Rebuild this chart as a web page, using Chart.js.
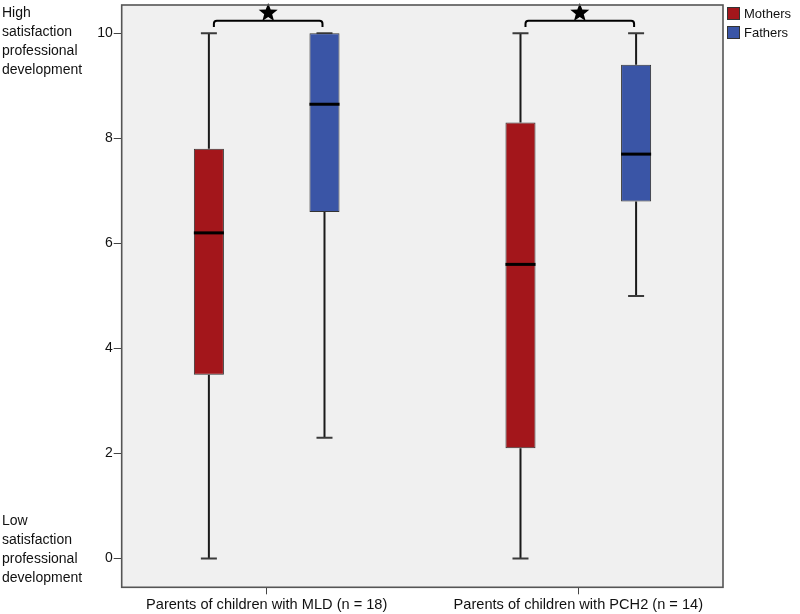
<!DOCTYPE html>
<html><head><meta charset="utf-8">
<script src="https://cdn.jsdelivr.net/npm/chart.js@4/dist/chart.umd.min.js"></script>
<style>html,body{margin:0;padding:0;background:#fff}#wrap{width:800px;height:614px;position:relative}</style>
</head><body><div id="wrap"><canvas id="c"></canvas></div>
<script>
// ---- data ----
const categories = ['Parents of children with MLD (n = 18)', 'Parents of children with PCH2 (n = 14)'];
const seriesNames = ['Mothers', 'Fathers'];
const mothersMin = [0, 0];
const mothersQ1 = [3.5, 2.1];
const mothersMedian = [6.2, 5.6];
const mothersQ3 = [7.8, 8.3];
const mothersMax = [10, 10];
const fathersMin = [2.3, 5.0];
const fathersQ1 = [6.6, 6.8];
const fathersMedian = [8.65, 7.7];
const fathersQ3 = [10, 9.4];
const fathersMax = [10, 10];
const yTicks = [0, 2, 4, 6, 8, 10];
const significant = [true, true];
const highLabel = ['High', 'satisfaction', 'professional', 'development'];
const lowLabel = ['Low', 'satisfaction', 'professional', 'development'];

const stats = [
  {min: mothersMin, q1: mothersQ1, med: mothersMedian, q3: mothersQ3, max: mothersMax},
  {min: fathersMin, q1: fathersQ1, med: fathersMedian, q3: fathersQ3, max: fathersMax}
];
const colors = ['#a3161b', '#3a55a6'];
const FONT = '"Liberation Sans", Arial, sans-serif';

const boxPlugin = {
  id: 'boxPlugin',
  beforeDraw(chart) {
    const {ctx, chartArea: a} = chart;
    ctx.save();
    ctx.fillStyle = '#f0f0f0';
    ctx.fillRect(a.left, a.top, a.right - a.left, a.bottom - a.top);
    ctx.restore();
  },
  beforeDatasetsDraw(chart) {
    const {ctx} = chart; const ys = chart.scales.y;
    ctx.save();
    stats.forEach((s, d) => {
      const meta = chart.getDatasetMeta(d);
      meta.data.forEach((el, i) => {
        const {x} = el.getProps(['x'], true);
        ctx.strokeStyle = '#1a1a1a'; ctx.lineWidth = 2;
        ctx.beginPath();
        ctx.moveTo(x, ys.getPixelForValue(s.min[i])); ctx.lineTo(x, ys.getPixelForValue(s.q1[i]));
        ctx.moveTo(x, ys.getPixelForValue(s.q3[i])); ctx.lineTo(x, ys.getPixelForValue(s.max[i]));
        ctx.stroke();
        ctx.strokeStyle = '#3a3a3a';
        ctx.beginPath();
        [s.min[i], s.max[i]].forEach(v => {
          const y = ys.getPixelForValue(v);
          ctx.moveTo(x - 8, y); ctx.lineTo(x + 8, y);
        });
        ctx.stroke();
      });
    });
    ctx.restore();
  },
  afterDatasetsDraw(chart) {
    const {ctx, chartArea: a} = chart; const ys = chart.scales.y;
    ctx.save();
    // medians
    stats.forEach((s, d) => {
      const meta = chart.getDatasetMeta(d);
      meta.data.forEach((el, i) => {
        const {x, width} = el.getProps(['x', 'width'], true);
        const y = ys.getPixelForValue(s.med[i]);
        ctx.strokeStyle = '#000'; ctx.lineWidth = 3;
        ctx.beginPath(); ctx.moveTo(x - width / 2, y); ctx.lineTo(x + width / 2, y); ctx.stroke();
      });
    });
    // significance brackets
    const m0 = chart.getDatasetMeta(0), m1 = chart.getDatasetMeta(1);
    significant.forEach((sig, i) => {
      if (!sig) return;
      const x1 = m0.data[i].getProps(['x'], true).x + 5;
      const x2 = m1.data[i].getProps(['x'], true).x - 2;
      const yTop = ys.getPixelForValue(10.24), yEnd = ys.getPixelForValue(10.12);
      ctx.strokeStyle = '#000'; ctx.lineWidth = 2;
      ctx.beginPath();
      ctx.moveTo(x1, yEnd);
      ctx.arcTo(x1, yTop, x1 + 4, yTop, 3);
      ctx.lineTo(x2 - 4, yTop);
      ctx.arcTo(x2, yTop, x2, yEnd, 3);
      ctx.lineTo(x2, yEnd);
      ctx.stroke();
      // star
      const cx = (x1 + x2) / 2, cy = ys.getPixelForValue(10.39), R = 10, r = 4.2;
      ctx.fillStyle = '#000';
      ctx.beginPath();
      for (let k = 0; k < 10; k++) {
        const ang = -Math.PI / 2 + k * Math.PI / 5;
        const rr = k % 2 === 0 ? R : r;
        const px = cx + rr * Math.cos(ang), py = cy + rr * Math.sin(ang);
        k === 0 ? ctx.moveTo(px, py) : ctx.lineTo(px, py);
      }
      ctx.closePath(); ctx.fill();
    });
    // frame
    ctx.strokeStyle = '#555'; ctx.lineWidth = 1.6;
    ctx.strokeRect(a.left, a.top, a.right - a.left, a.bottom - a.top);
    ctx.restore();
  },
  afterDraw(chart) {
    const {ctx, chartArea: a} = chart;
    ctx.save();
    // legend
    ctx.font = '13px ' + FONT; ctx.textBaseline = 'middle'; ctx.textAlign = 'left';
    seriesNames.forEach((n, i) => {
      const y = 7 + i * 19;
      ctx.fillStyle = colors[i];
      ctx.fillRect(a.right + 4, y, 13, 13);
      ctx.strokeStyle = '#333'; ctx.lineWidth = 1;
      ctx.strokeRect(a.right + 4.5, y + 0.5, 12, 12);
      ctx.fillStyle = '#111';
      ctx.fillText(n, a.right + 21, y + 7);
    });
    // side labels
    ctx.font = '14px ' + FONT; ctx.fillStyle = '#111';
    highLabel.forEach((t, i) => ctx.fillText(t, 2, 13 + i * 19));
    lowLabel.forEach((t, i) => ctx.fillText(t, 2, 521 + i * 19));
    ctx.restore();
  }
};

new Chart(document.getElementById('c'), {
  type: 'bar',
  data: {
    datasets: stats.map((s, d) => ({
      label: seriesNames[d],
      data: categories.map((c, i) => ({x: i, y: [s.q1[i], s.q3[i]]})),
      backgroundColor: colors[d],
      borderColor: '#333',
      borderWidth: 1,
      borderSkipped: false,
      categoryPercentage: 0.742,
      barPercentage: 0.26
    }))
  },
  options: {
    responsive: true, maintainAspectRatio: false, animation: false,
    layout: {padding: {left: 0, top: 5, right: 77, bottom: 0}},
    plugins: {legend: {display: false}, tooltip: {enabled: false}},
    scales: {
      x: {
        type: 'linear', offset: false, min: -0.4653, max: 1.4644,
        afterBuildTicks: s => { s.ticks = categories.map((c, i) => ({value: i})); },
        afterFit: s => { s.height = 26.7; s.paddingLeft = 0; s.paddingRight = 0; },
        grid: {display: true, drawOnChartArea: false, drawTicks: true, tickLength: 7, color: '#444', offset: false},
        border: {display: false},
        ticks: {callback: v => categories[v], autoSkip: false, maxRotation: 0, padding: 2,
                font: {family: FONT, size: 14.6}, color: '#111'}
      },
      y: {
        min: -0.55, max: 10.54,
        afterBuildTicks: s => { s.ticks = yTicks.map(v => ({value: v})); },
        afterFit: s => { s.width = 121.7; s.paddingTop = 0; s.paddingBottom = 0; },
        grid: {display: true, drawOnChartArea: false, drawTicks: true, tickLength: 8, color: '#444'},
        border: {display: false},
        ticks: {padding: 1, font: {family: FONT, size: 14}, color: '#111'}
      }
    }
  },
  plugins: [boxPlugin]
});
</script></body></html>
